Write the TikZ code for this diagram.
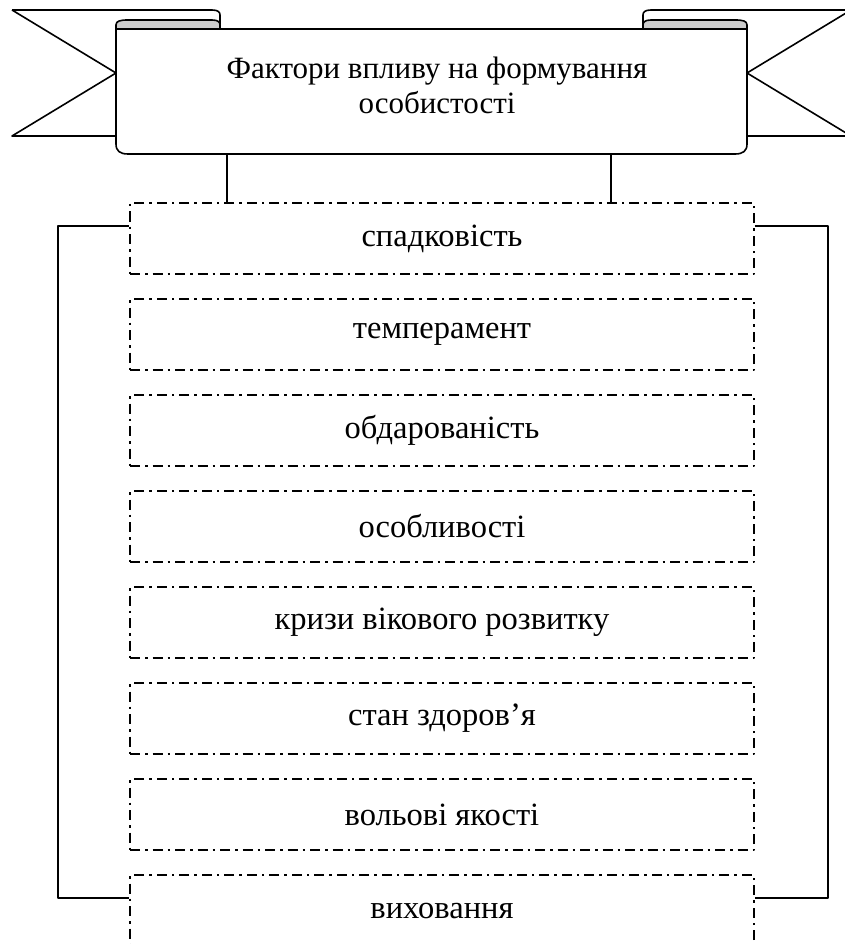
\documentclass[tikz,border=0pt]{standalone}
\usepackage{fontspec}
\setmainfont{Liberation Serif}
\usetikzlibrary{positioning}

\begin{document}
\begin{tikzpicture}[x=1pt, y=-1pt, line width=1.6pt, line join=round,
    factor/.style={draw, dash pattern=on 10pt off 5pt on 2.5pt off 5pt,
      minimum width=624pt, minimum height=71pt, inner sep=0pt,
      font=\fontsize{32.5}{36}\selectfont},
    fold/.style={draw, fill=black!20}]
    \useasboundingbox (0,0) rectangle (844,944);

    % banner: tails behind
    \draw (12,10) -- (116,73) -- (12,136) -- (116,136);
    \draw (851,10) -- (747,73) -- (851,136) -- (747,136);
    \draw (12,10) -- (212,10) .. controls (218,10) and (220,12) .. (220,15) -- (220,29);
    \draw (851,10) -- (651,10) .. controls (645,10) and (643,12) .. (643,15) -- (643,29);

    % banner: front panel
    \draw[fill=white] (116,25) -- (116,144) .. controls (116,151) and (120,154) .. (128,154)
        -- (735,154) .. controls (743,154) and (747,151) .. (747,144) -- (747,25);
    \draw (116,29) -- (747,29);
    \draw[fold] (116,29) -- (116,25) .. controls (116,21) and (120,20) .. (128,20) -- (212,20)
        .. controls (218,20) and (220,22) .. (220,25) -- (220,29) -- cycle;
    \draw[fold] (747,29) -- (747,25) .. controls (747,21) and (743,20) .. (735,20) -- (651,20)
        .. controls (645,20) and (643,22) .. (643,25) -- (643,29) -- cycle;
    \node[align=center, font=\fontsize{31}{35}\selectfont] (title) at (437,85)
        {Фактори впливу на формування\\особистості};
    \coordinate (t1) at (227,154);
    \coordinate (t2) at (611,154);

    % factors
    \node[factor] (s1) at (442,238.5) {спадковість};
    \node[factor] (s2) at (442,334.5) {темперамент};
    \node[factor] (s3) at (442,430.5) {обдарованість};
    \node[factor] (s4) at (442,526.5) {особливості};
    \node[factor] (s5) at (442,622.5) {кризи вікового розвитку};
    \node[factor] (s6) at (442,718.5) {стан здоров’я};
    \node[factor] (s7) at (442,814.5) {вольові якості};
    \node[factor] (s8) at (442,910.5) {виховання};

    \draw (t1) -- (t1 |- s1.north);
    \draw (t2) -- (t2 |- s1.north);
    \draw ([yshift=-24pt]s1.north west) -- ++(-71,0) |- ([yshift=-24pt]s8.north west);
    \draw ([yshift=-24pt]s1.north east) -- ++(73,0) |- ([yshift=-24pt]s8.north east);
\end{tikzpicture}
\end{document}
